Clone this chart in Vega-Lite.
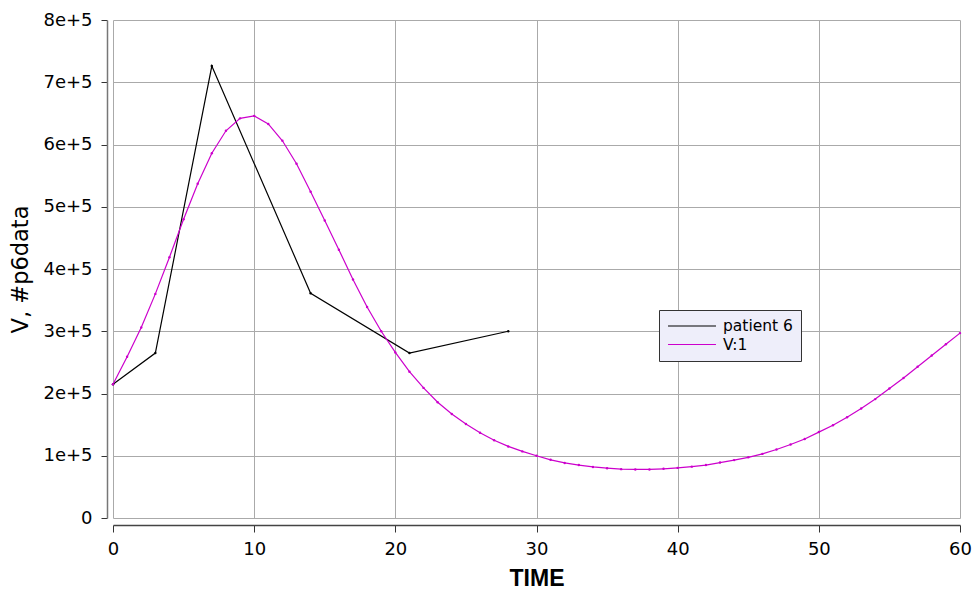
{
  "$schema": "https://vega.github.io/schema/vega-lite/v6.json",
  "autosize": "none",
  "width": 847,
  "height": 498,
  "padding": {"left": 113, "top": 20, "right": 14, "bottom": 72},
  "background": "white",
  "config": {
    "font": "DejaVu Sans",
    "view": {"stroke": null}
  },
  "data": {
    "values": [
      {"t": 0, "v": 215000, "series": "patient 6"},
      {"t": 3, "v": 265000, "series": "patient 6"},
      {"t": 7, "v": 726000, "series": "patient 6"},
      {"t": 14, "v": 361000, "series": "patient 6"},
      {"t": 21, "v": 265000, "series": "patient 6"},
      {"t": 28, "v": 300000, "series": "patient 6"},
      {"t": 0, "v": 215000, "series": "V:1"},
      {"t": 1, "v": 259000, "series": "V:1"},
      {"t": 2, "v": 306000, "series": "V:1"},
      {"t": 3, "v": 360000, "series": "V:1"},
      {"t": 4, "v": 419000, "series": "V:1"},
      {"t": 5, "v": 480000, "series": "V:1"},
      {"t": 6, "v": 537000, "series": "V:1"},
      {"t": 7, "v": 586000, "series": "V:1"},
      {"t": 8, "v": 622000, "series": "V:1"},
      {"t": 9, "v": 642000, "series": "V:1"},
      {"t": 10, "v": 646000, "series": "V:1"},
      {"t": 11, "v": 633000, "series": "V:1"},
      {"t": 12, "v": 606000, "series": "V:1"},
      {"t": 13, "v": 569000, "series": "V:1"},
      {"t": 14, "v": 524000, "series": "V:1"},
      {"t": 15, "v": 478000, "series": "V:1"},
      {"t": 16, "v": 431000, "series": "V:1"},
      {"t": 17, "v": 383000, "series": "V:1"},
      {"t": 18, "v": 339000, "series": "V:1"},
      {"t": 19, "v": 300000, "series": "V:1"},
      {"t": 20, "v": 266000, "series": "V:1"},
      {"t": 21, "v": 235000, "series": "V:1"},
      {"t": 22, "v": 209000, "series": "V:1"},
      {"t": 23, "v": 186000, "series": "V:1"},
      {"t": 24, "v": 167000, "series": "V:1"},
      {"t": 25, "v": 151000, "series": "V:1"},
      {"t": 26, "v": 137000, "series": "V:1"},
      {"t": 27, "v": 125000, "series": "V:1"},
      {"t": 28, "v": 115000, "series": "V:1"},
      {"t": 29, "v": 107000, "series": "V:1"},
      {"t": 30, "v": 100000, "series": "V:1"},
      {"t": 31, "v": 93500, "series": "V:1"},
      {"t": 32, "v": 88500, "series": "V:1"},
      {"t": 33, "v": 85000, "series": "V:1"},
      {"t": 34, "v": 82000, "series": "V:1"},
      {"t": 35, "v": 80000, "series": "V:1"},
      {"t": 36, "v": 78500, "series": "V:1"},
      {"t": 37, "v": 78000, "series": "V:1"},
      {"t": 38, "v": 78000, "series": "V:1"},
      {"t": 39, "v": 79000, "series": "V:1"},
      {"t": 40, "v": 80500, "series": "V:1"},
      {"t": 41, "v": 82500, "series": "V:1"},
      {"t": 42, "v": 85000, "series": "V:1"},
      {"t": 43, "v": 89000, "series": "V:1"},
      {"t": 44, "v": 93000, "series": "V:1"},
      {"t": 45, "v": 97500, "series": "V:1"},
      {"t": 46, "v": 103000, "series": "V:1"},
      {"t": 47, "v": 110000, "series": "V:1"},
      {"t": 48, "v": 118000, "series": "V:1"},
      {"t": 49, "v": 127000, "series": "V:1"},
      {"t": 50, "v": 138000, "series": "V:1"},
      {"t": 51, "v": 149000, "series": "V:1"},
      {"t": 52, "v": 162000, "series": "V:1"},
      {"t": 53, "v": 176000, "series": "V:1"},
      {"t": 54, "v": 191000, "series": "V:1"},
      {"t": 55, "v": 208000, "series": "V:1"},
      {"t": 56, "v": 225000, "series": "V:1"},
      {"t": 57, "v": 243000, "series": "V:1"},
      {"t": 58, "v": 261000, "series": "V:1"},
      {"t": 59, "v": 279000, "series": "V:1"},
      {"t": 60, "v": 297000, "series": "V:1"}
    ]
  },
  "mark": {"type": "line", "strokeWidth": 1.2, "point": {"filled": true, "size": 6}},
  "encoding": {
    "x": {
      "field": "t",
      "type": "quantitative",
      "scale": {"domain": [0, 60], "nice": false, "zero": false},
      "axis": {
        "title": "TIME",
        "titleFont": "Liberation Sans",
        "titleFontSize": 23,
        "titleFontWeight": "bold",
        "titleColor": "#000",
        "titlePadding": 9,
        "values": [0, 10, 20, 30, 40, 50, 60],
        "labelFontSize": 18,
        "labelColor": "#000",
        "labelPadding": 8,
        "labelFlush": false,
        "offset": 7,
        "tickSize": 7,
        "tickColor": "#333",
        "domainColor": "#444",
        "domainWidth": 1.5,
        "grid": true,
        "gridColor": "#aaaaaa",
        "gridWidth": 1
      }
    },
    "y": {
      "field": "v",
      "type": "quantitative",
      "scale": {"domain": [0, 800000], "nice": false},
      "axis": {
        "title": "V, #p6data",
        "titleFontSize": 22.5,
        "titleFontWeight": "normal",
        "titleColor": "#000",
        "titlePadding": 10,
        "values": [0, 100000, 200000, 300000, 400000, 500000, 600000, 700000, 800000],
        "labelExpr": "datum.value == 0 ? '0' : (datum.value / 100000) + 'e+5'",
        "labelFontSize": 18,
        "labelColor": "#000",
        "labelPadding": 9,
        "labelFlush": false,
        "offset": 6,
        "tickSize": 6,
        "tickColor": "#333",
        "domainColor": "#777",
        "domainWidth": 1.5,
        "grid": true,
        "gridColor": "#aaaaaa",
        "gridWidth": 1
      }
    },
    "color": {
      "field": "series",
      "type": "nominal",
      "scale": {"domain": ["patient 6", "V:1"], "range": ["#000000", "#cc00cc"]},
      "legend": {
        "title": null,
        "orient": "none",
        "legendX": 546,
        "legendY": 290,
        "fillColor": "#eeeefa",
        "strokeColor": "#333",
        "padding": 8,
        "symbolType": "stroke",
        "symbolSize": 2300,
        "symbolStrokeWidth": 1.2,
        "clipHeight": 16,
        "labelFontSize": 15.5,
        "labelColor": "#000",
        "labelOffset": 6,
        "rowPadding": 1.5
      }
    }
  }
}
